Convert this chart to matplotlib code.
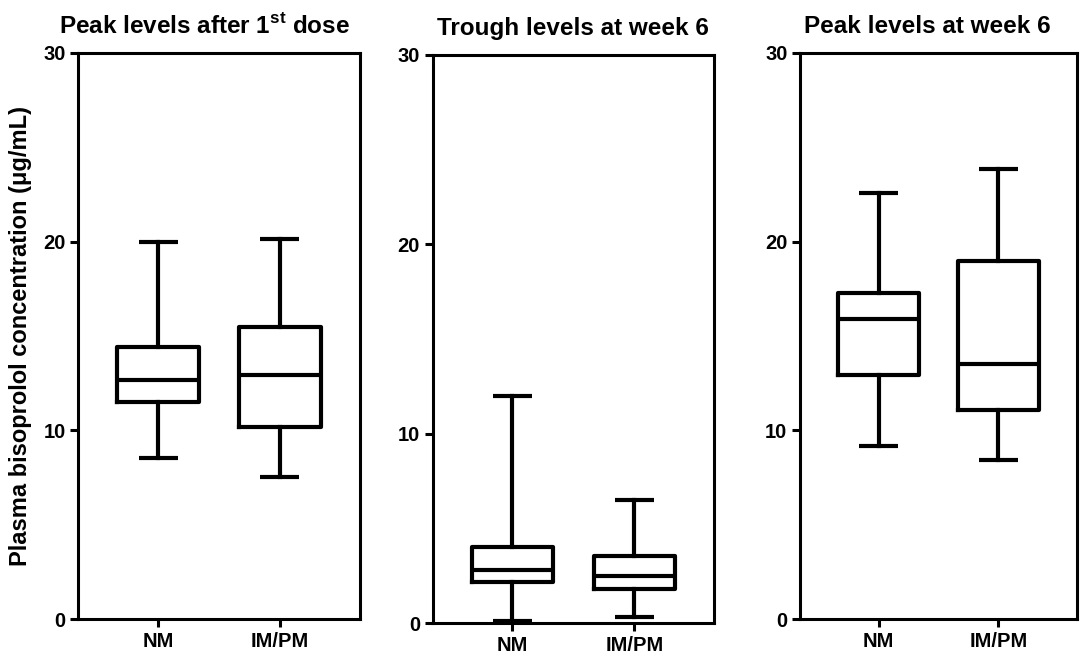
import matplotlib
matplotlib.use('Agg')
import matplotlib.pyplot as plt

plt.rcParams['font.family'] = ['Liberation Sans', 'DejaVu Sans']
plt.rcParams['font.weight'] = 'bold'
plt.rcParams['mathtext.fontset'] = 'custom'
plt.rcParams['mathtext.rm'] = 'Liberation Sans:bold'
plt.rcParams['mathtext.bf'] = 'Liberation Sans:bold'

groups = ['NM', 'IM/PM']
titles = [r'Peak levels after 1$^{\mathbf{st}}$ dose', 'Trough levels at week 6', 'Peak levels at week 6']

# min, q1, median, q3, max for each group (NM, IM/PM)
peak_first = [(8.55, 11.5, 12.65, 14.4, 20.0), (7.55, 10.2, 12.95, 15.45, 20.15)]
trough_wk6 = [(0.1, 2.15, 2.8, 4.0, 12.0), (0.3, 1.8, 2.5, 3.55, 6.5)]
peak_wk6 = [(9.15, 12.95, 15.9, 17.3, 22.55), (8.4, 11.05, 13.5, 18.95, 23.85)]
panels = [peak_first, trough_wk6, peak_wk6]

yticks = [0, 10, 20, 30]

fig = plt.figure(figsize=(10.84, 6.56), dpi=100)
rects = [[0.072, 0.0564, 0.260, 0.863],
         [0.399, 0.0503, 0.260, 0.866],
         [0.738, 0.0564, 0.2555, 0.863]]
title_x = [0.45, 0.5, 0.46]

lw = 3.0
for i, (data, title) in enumerate(zip(panels, titles)):
    ax = fig.add_axes(rects[i])
    stats = []
    for g, (lo, q1, med, q3, hi) in zip(groups, data):
        stats.append({'label': g, 'whislo': lo, 'q1': q1, 'med': med, 'q3': q3, 'whishi': hi, 'fliers': []})
    ax.bxp(stats, positions=[1, 2], widths=0.67, showfliers=False,
           boxprops=dict(color='black', linewidth=lw),
           medianprops=dict(color='black', linewidth=lw, solid_capstyle='butt'),
           whiskerprops=dict(color='black', linewidth=lw),
           capprops=dict(color='black', linewidth=lw, solid_capstyle='butt'),
           capwidths=0.32)
    ax.set_xlim(0.344, 2.656)
    ax.set_ylim(0, 30)
    ax.set_yticks(yticks)
    ax.set_xticks([1, 2])
    ax.set_xticklabels(groups)
    for s in ax.spines.values():
        s.set_linewidth(2.2)
    ax.tick_params(axis='both', direction='out', width=2.2, length=6, labelsize=14.5, pad=3)
    ax.set_title(title, fontsize=17.5, fontweight='bold', pad=14, x=title_x[i])
    if i == 0:
        ax.set_ylabel('Plasma bisoprolol concentration (\u03bcg/mL)', fontsize=17, fontweight='bold', labelpad=8)

fig.savefig('out.png', dpi=100)
